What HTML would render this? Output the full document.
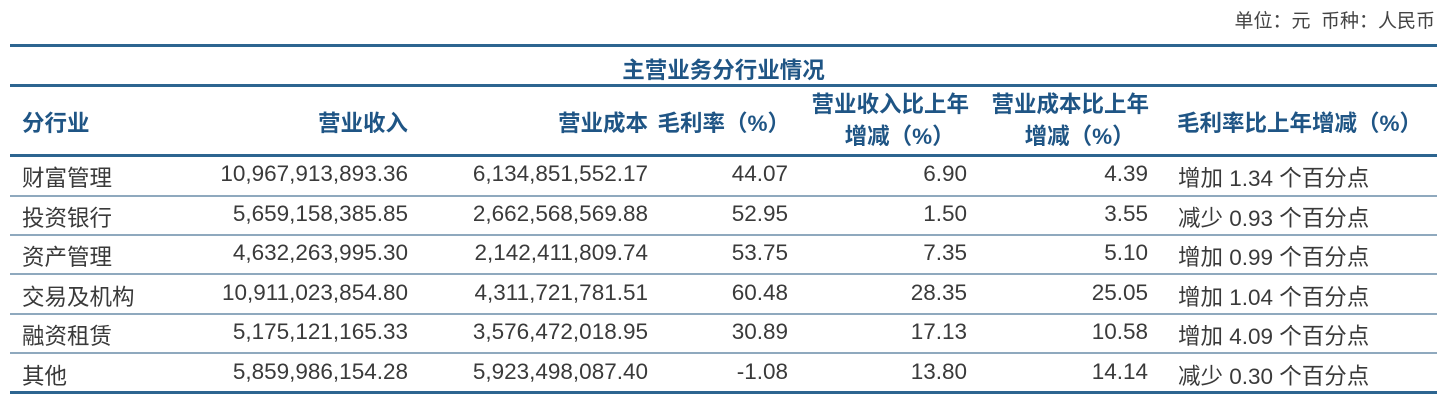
<!DOCTYPE html>
<html><head><meta charset="utf-8"><style>
body{margin:0;width:1447px;height:400px;background:#fff;position:relative;overflow:hidden;font-family:"Liberation Sans","Noto Sans CJK SC",sans-serif}
.t{position:absolute;white-space:nowrap}
.h{color:#1f5585;font-weight:bold;font-size:22.5px}
.d{color:#3a3a3a;font-size:22.5px}
.r{text-align:right}
.ln{position:absolute;left:10px;width:1427px}
.thick{height:3px;background:#2d6590}
.thin{height:1.5px;background:#8fa9be}
</style></head><body>
<div class="t" style="right:12px;top:6px;font-size:19px;color:#444">单位：元&nbsp; 币种：人民币</div>
<div class="ln thick" style="top:44px"></div>
<div class="t h" style="left:0;width:1447px;text-align:center;top:53px">主营业务分行业情况</div>
<div class="ln thick" style="top:84px"></div>
<div class="t h" style="left:22px;top:106px">分行业</div>
<div class="t h r" style="right:1039px;top:106px">营业收入</div>
<div class="t h r" style="right:799px;top:106px">营业成本</div>
<div class="t h r" style="right:657px;top:106px">毛利率（%）</div>
<div class="t h r" style="right:478px;top:89px;text-align:center;line-height:32px">营业收入比上年<br>&nbsp;&nbsp;&nbsp;增减（%）</div>
<div class="t h r" style="right:298px;top:89px;text-align:center;line-height:32px">营业成本比上年<br>&nbsp;&nbsp;&nbsp;增减（%）</div>
<div class="t h" style="left:1177px;top:106px">毛利率比上年增减（%）</div>
<div class="ln thick" style="top:154px"></div>
<div id="rows"></div>
<div class="ln thin" style="top:195px"></div>
<div class="ln thin" style="top:234px"></div>
<div class="ln thin" style="top:273px"></div>
<div class="ln thin" style="top:313px"></div>
<div class="ln thin" style="top:352px"></div>
<div class="ln thick" style="top:391px"></div>
<script>
var d=[["财富管理","10,967,913,893.36","6,134,851,552.17","44.07","6.90","4.39","增加 1.34 个百分点"],
["投资银行","5,659,158,385.85","2,662,568,569.88","52.95","1.50","3.55","减少 0.93 个百分点"],
["资产管理","4,632,263,995.30","2,142,411,809.74","53.75","7.35","5.10","增加 0.99 个百分点"],
["交易及机构","10,911,023,854.80","4,311,721,781.51","60.48","28.35","25.05","增加 1.04 个百分点"],
["融资租赁","5,175,121,165.33","3,576,472,018.95","30.89","17.13","10.58","增加 4.09 个百分点"],
["其他","5,859,986,154.28","5,923,498,087.40","-1.08","13.80","14.14","减少 0.30 个百分点"]];
var rt=[1039,799,659,480,299],h="";
d.forEach(function(r,i){var y=161+i*39.5;
h+='<div class="t d" style="left:22px;top:'+y+'px">'+r[0]+'</div>';
for(var j=1;j<6;j++)h+='<div class="t d r" style="right:'+rt[j-1]+'px;top:'+y+'px">'+r[j]+'</div>';
h+='<div class="t d" style="left:1178px;top:'+y+'px">'+r[6]+'</div>';});
document.getElementById("rows").innerHTML=h;
</script>
</body></html>
